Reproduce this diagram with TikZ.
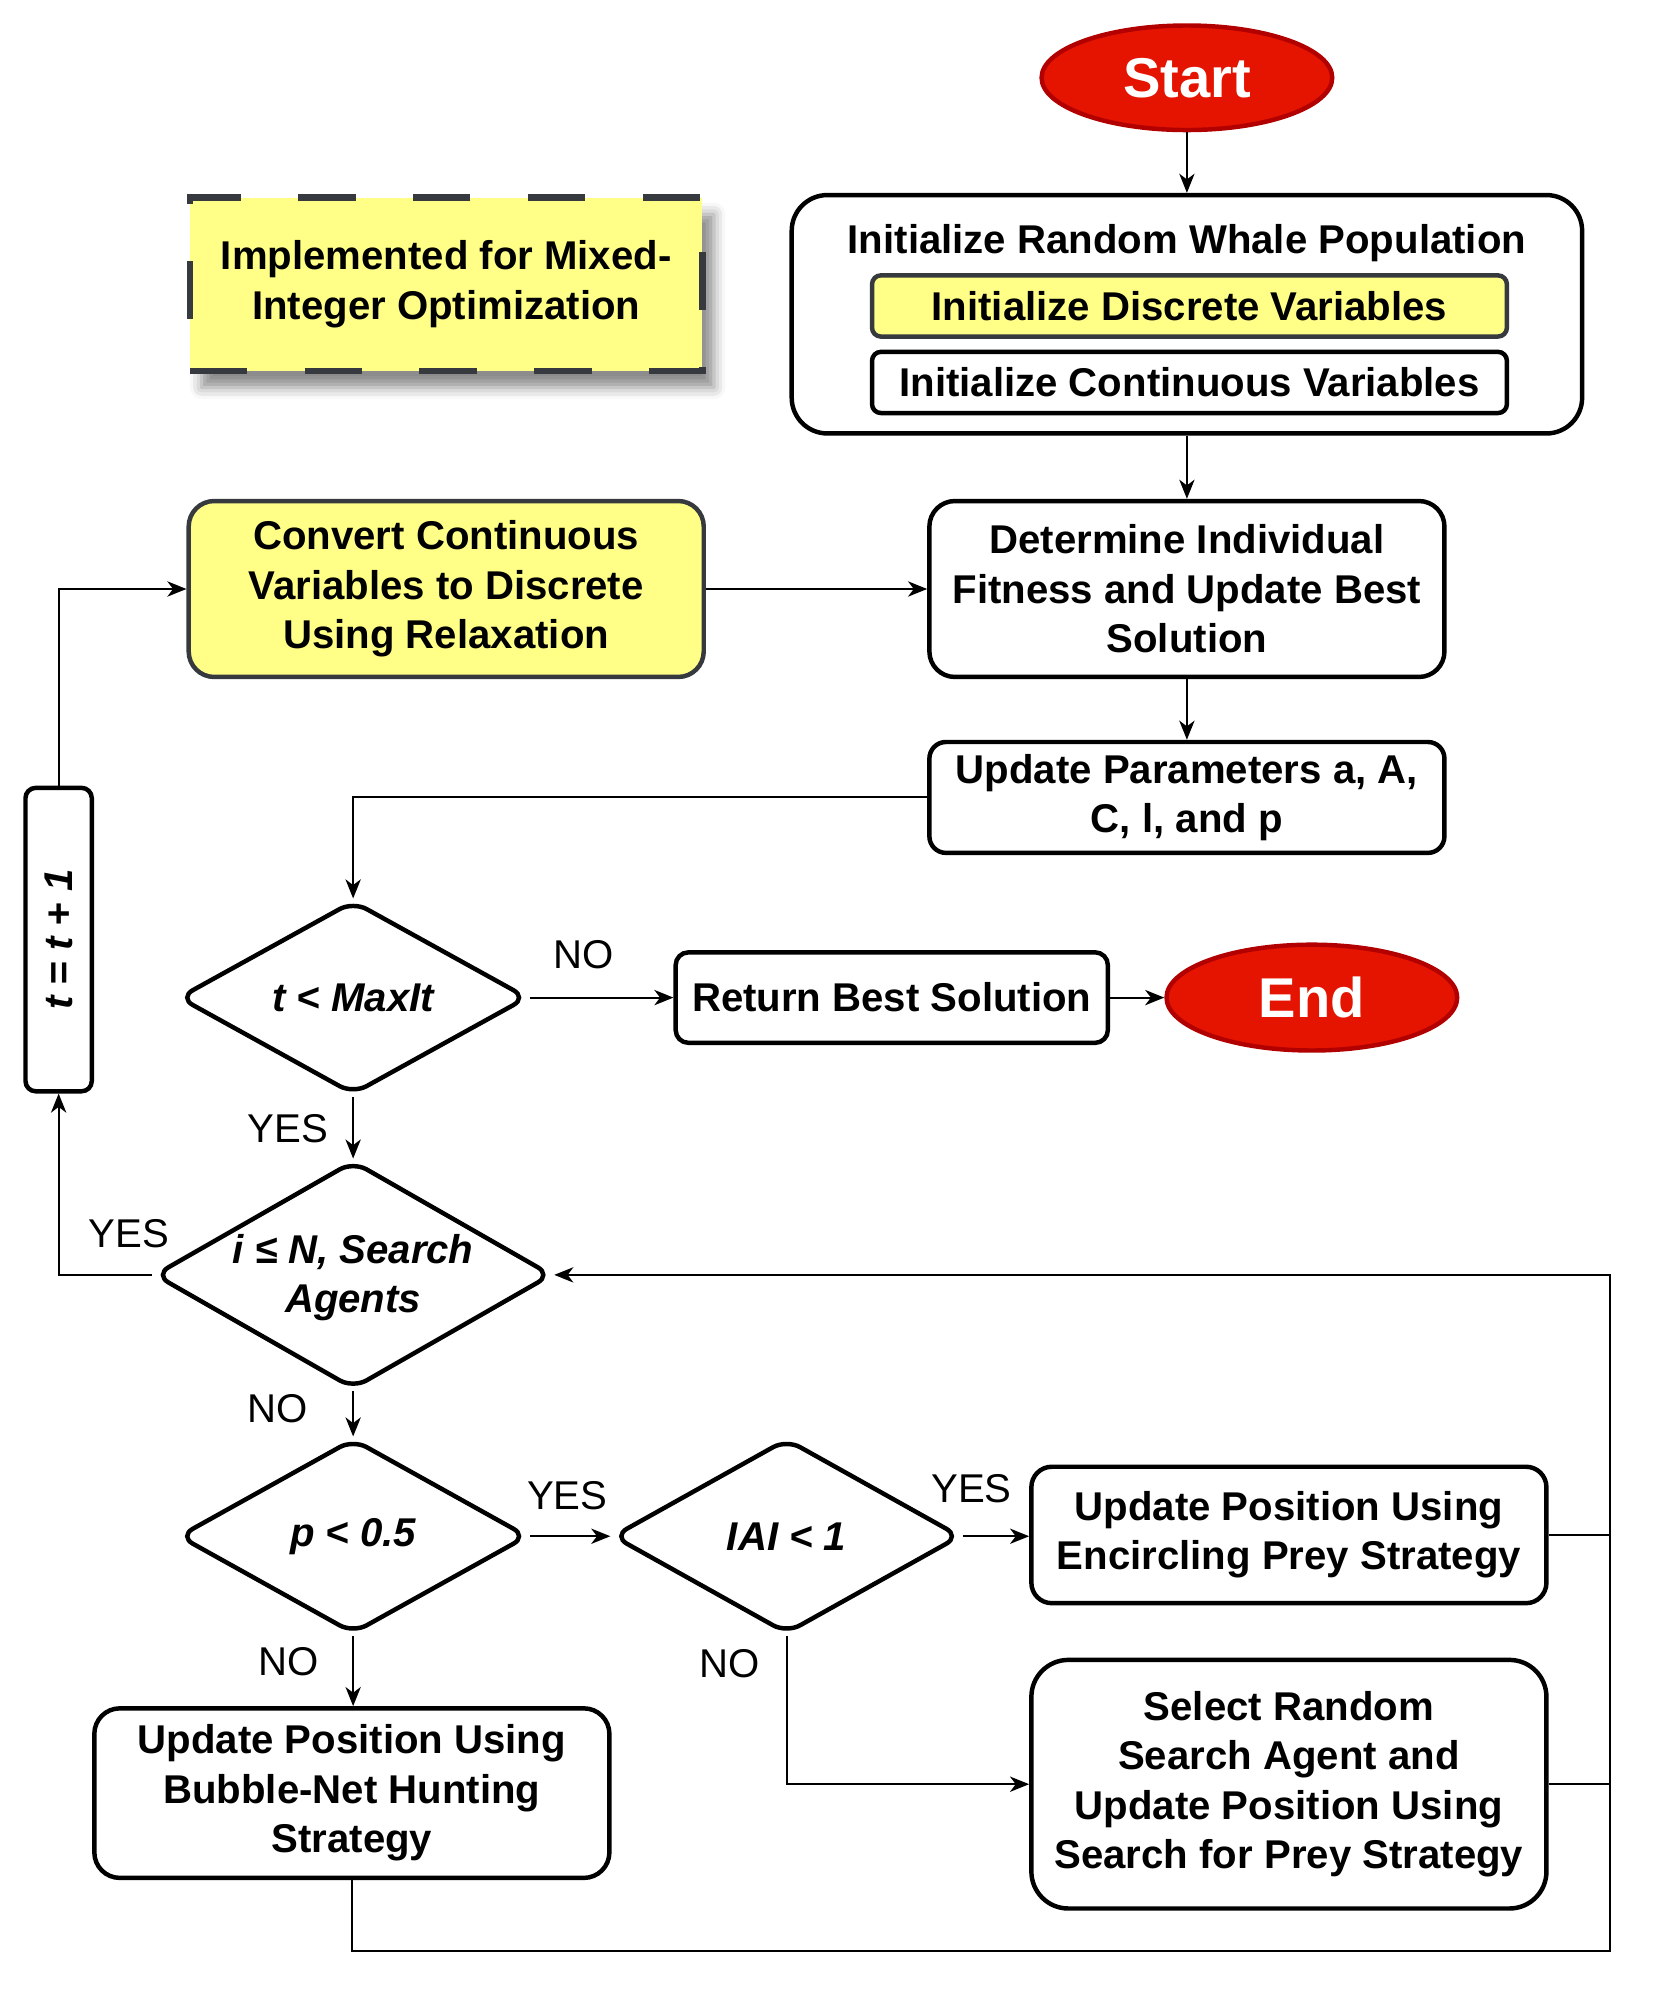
\documentclass[tikz,border=0pt]{standalone}
\usepackage{fontspec}
\setmainfont{Liberation Sans}
\usetikzlibrary{shapes.geometric,arrows.meta,shadows.blur}
\definecolor{wred}{HTML}{E51400}
\definecolor{wredd}{HTML}{B20000}
\definecolor{wyel}{HTML}{FFFF88}
\definecolor{wgry}{HTML}{36393D}
\begin{document}
\begin{tikzpicture}[x=1pt,y=-1pt,
 txt/.style={font=\fontsize{31.5}{38.8}\selectfont\bfseries, align=center},
 box/.style={draw=black, line width=3.5pt, fill=white, rectangle, inner sep=0pt, txt},
 ybox/.style={box, draw=wgry, fill=wyel},
 term/.style={ellipse, draw=wredd, fill=wred, line width=3.5pt, text=white, font=\fontsize{44}{50}\selectfont\bfseries, inner sep=0pt},
 dia/.style={diamond, draw=black, line width=3.5pt, fill=white, rounded corners=12pt, inner sep=0pt},
 arr/.style={line width=1.5pt, -{Stealth[length=15pt,width=12pt,inset=4.5pt]}},
 ln/.style={line width=1.5pt},
 lbl/.style={font=\fontsize{31.5}{38.5}\selectfont},
 itx/.style={font=\fontsize{31.5}{38.5}\selectfont\bfseries\itshape, align=center}]
\useasboundingbox (0,0) rectangle (1299,1568);

% nodes
\node[term, minimum width=228pt, minimum height=82pt] (start) at (931,61) {Start};

\node[box, rounded corners=28pt, minimum width=620pt, minimum height=187pt] (init) at (931,246.5) {};
\node[txt] (inittitle) at (931,191) {Initialize Random Whale Population};
\node[ybox, rounded corners=7pt, minimum width=498pt, minimum height=48pt] (disc) at (933,240) {Initialize Discrete Variables};
\node[box, rounded corners=7pt, minimum width=498pt, minimum height=48pt] (cont) at (933,300) {Initialize Continuous Variables};

\node[ybox, draw=wgry, line width=5pt, dash pattern=on 45pt off 45pt,
      blur shadow={shadow xshift=9pt, shadow yshift=-13pt, shadow blur radius=9pt, shadow opacity=45},
      minimum width=402pt, minimum height=136pt] (note) at (350,223) {Implemented for Mixed-\\Integer Optimization};

\node[ybox, rounded corners=20pt, minimum width=404pt, minimum height=138pt] (conv) at (350,462) {Convert Continuous\\Variables to Discrete\\Using Relaxation};
\node[box, rounded corners=20pt, minimum width=404pt, minimum height=138pt] (det) at (931,462) {Determine Individual\\Fitness and Update Best\\Solution};
\node[box, rounded corners=13pt, minimum width=404pt, minimum height=87pt] (upd) at (931,625.5) {Update Parameters a, A,\\C, l, and p};

\node[dia, minimum width=274pt, minimum height=152pt] (d1) at (277,782.5) {};
\node[itx] (d1t) at (d1.center) {t < MaxIt};

\node[box, rounded corners=10pt, minimum width=339pt, minimum height=71pt] (ret) at (699.5,782.5) {Return Best Solution};
\node[term, minimum width=228pt, minimum height=83pt] (endn) at (1029,782.5) {End};

\node[box, rounded corners=8pt, minimum width=52pt, minimum height=238pt] (tt) at (46,737) {};
\node[itx, rotate=90] (ttt) at (tt.center) {t = t + 1};

\node[dia, minimum width=312pt, minimum height=179pt] (d2) at (277,1000) {};
\node[itx] (d2t) at (277,1002) {i ≤ N, Search\\Agents};

\node[dia, minimum width=274pt, minimum height=153pt] (d3) at (277,1205) {};
\node[itx] (d3t) at (d3.center) {p < 0.5};

\node[dia, minimum width=273pt, minimum height=153pt] (d4) at (617,1205) {};
\node[itx] (d4t) at (d4.center) {IAI < 1};

\node[box, rounded corners=16pt, minimum width=404pt, minimum height=107pt] (enc) at (1011,1204) {Update Position Using\\Encircling Prey Strategy};
\node[box, rounded corners=29pt, minimum width=404pt, minimum height=195pt] (sel) at (1011,1399.5) {Select Random\\Search Agent and\\Update Position Using\\Search for Prey Strategy};
\node[box, rounded corners=20pt, minimum width=404pt, minimum height=133pt] (bub) at (276,1406.5) {Update Position Using\\Bubble-Net Hunting\\Strategy};

\coordinate (rb) at (1263,1530);

% connectors
\draw[arr] (start.south) -- (init.north);
\draw[arr] (init.south) -- (det.north);
\draw[arr] (conv.east) -- (det.west);
\draw[arr] (det.south) -- (upd.north);
\draw[arr] (upd.west) -| (d1.north);
\draw[arr] (d1.east) -- (ret.west);
\draw[arr] (ret.east) -- (endn.west);
\draw[arr] (d1.south) -- (d2.north);
\draw[arr] (d2.west) -| (tt.south);
\draw[arr] (tt.north) |- (conv.west);
\draw[arr] (d2.south) -- (d3.north);
\draw[arr] (d3.east) -- (d4.west);
\draw[arr] (d3.south) -- (d3.south |- bub.north);
\draw[arr] (d4.east) -- (d4.east -| enc.west);
\draw[arr] (d4.south) |- (sel.west);
\draw[arr] (enc.east) -| (d2.east -| rb) -- (d2.east);
\draw[ln] (sel.east) -- (sel.east -| rb);
\draw[ln] (bub.south) |- (rb) -- (enc.east -| rb);

% labels
\node[lbl] (l1) at (458,749) {NO};
\node[lbl] (l2) at (226,885) {YES};
\node[lbl] (l3) at (101,968) {YES};
\node[lbl] (l4) at (218,1105) {NO};
\node[lbl] (l5) at (445,1173) {YES};
\node[lbl] (l6) at (226,1303) {NO};
\node[lbl] (l7) at (762,1168) {YES};
\node[lbl] (l8) at (572,1305) {NO};
\end{tikzpicture}
\end{document}
